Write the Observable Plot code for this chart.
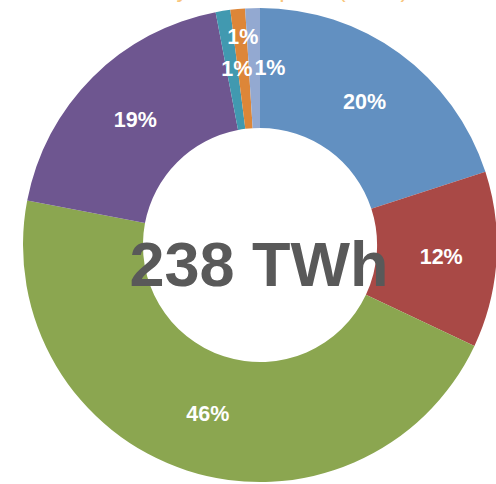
<!DOCTYPE html>
<html>
<head>
<meta charset="utf-8">
<script src="https://cdn.jsdelivr.net/npm/d3@7"></script>
<script src="https://cdn.jsdelivr.net/npm/@observablehq/plot@0.6"></script>
<style>
  html, body { margin: 0; padding: 0; background: #fff; overflow: hidden; }
  #chart svg { display: block; }
</style>
</head>
<body>
<div id="chart"></div>
<script>
// ---- data ----
const categories = ["Segment 1", "Segment 2", "Segment 3", "Segment 4", "Segment 5", "Segment 6", "Segment 7"];
const shares = [20, 12, 46, 19, 1, 1, 1];
const shareLabels = ["20%", "12%", "46%", "19%", "1%", "1%", "1%"];
const totalLabel = "238 TWh";
const titleText = "Electricity consumption (GWh)";

// ---- styles ----
const colors = ["#6290C1", "#A94946", "#8BA650", "#6E5690", "#4199B0", "#DD8638", "#93A9D1"];
const labelOffsetsPx = [[0, 0], [4, 0], [2, 0], [0, 0], [4, -2], [-1, -32], [15, 0]];
const innerRatio = 0.494;
const labelRadius = 0.747;
const pxPerUnit = 237;

// ---- build slices ----
const pie = d3.pie().sort(null).value(d => d.share);
const rows = categories.map((c, i) => ({category: c, share: shares[i], label: shareLabels[i], color: colors[i], off: labelOffsetsPx[i]}));
const arcs = pie(rows).map(a => {
  const mid = (a.startAngle + a.endAngle) / 2;
  return {...a.data, start: a.startAngle, end: a.endAngle,
          lx: labelRadius * Math.sin(mid) + a.data.off[0] / pxPerUnit,
          ly: labelRadius * Math.cos(mid) - a.data.off[1] / pxPerUnit};
});

const font = "Liberation Sans, Arial, Helvetica, sans-serif";

const chart = Plot.plot({
  width: 496,
  height: 484,
  margin: 0,
  style: {background: "#fff", overflow: "visible", fontFamily: font},
  x: {domain: [-1, 1], range: [23, 497], axis: null},
  y: {domain: [-1, 1], range: [482, 8], axis: null},
  marks: [
    Plot.dot(arcs, {
      x: 0, y: 0,
      render(index, scales, values, dimensions, context) {
        const cx = scales.x(0), cy = scales.y(0);
        const R = scales.x(1) - cx;
        const r = R * innerRatio;
        const arc = d3.arc().innerRadius(r).outerRadius(R);
        const g = d3.create("svg:g").attr("transform", `translate(${cx},${cy})`);
        for (const i of index) {
          const d = arcs[i];
          g.append("path")
            .attr("d", arc({startAngle: d.start, endAngle: d.end}))
            .attr("fill", d.color)
            .attr("stroke", "none");
        }
        return g.node();
      }
    }),
    Plot.text(arcs, {
      x: "lx", y: "ly", text: "label",
      fill: "white", fontSize: 21.5, fontWeight: "bold", fontFamily: font
    }),
    Plot.text([totalLabel], {
      x: 0, y: 0, text: d => d, dx: -1.5, dy: 20,
      fill: "#595959", fontSize: 63, fontWeight: "bold", fontFamily: font
    }),
    Plot.text([titleText], {
      frameAnchor: "top", text: d => d, textAnchor: "end", lineAnchor: "bottom",
      dx: 160, dy: -4,
      fill: "#F9C67C", fontSize: 24, fontFamily: font
    })
  ]
});

document.getElementById("chart").appendChild(chart);
</script>
</body>
</html>
